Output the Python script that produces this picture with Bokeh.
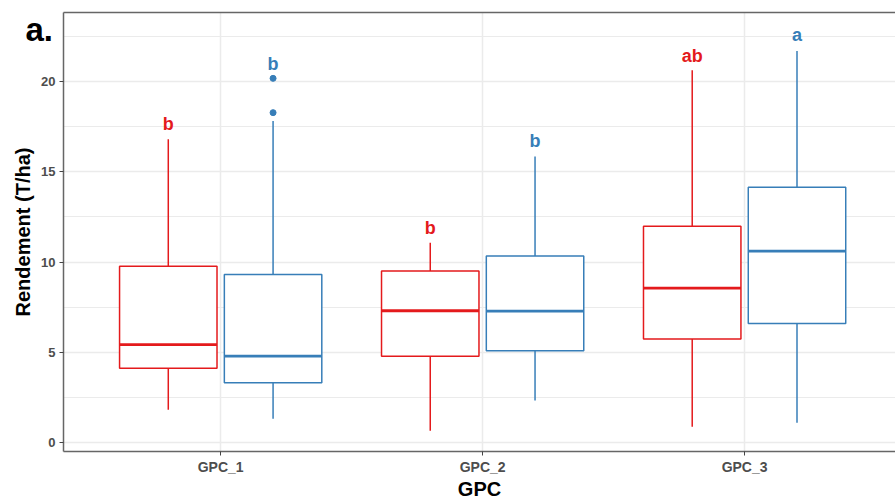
from bokeh.plotting import figure
from bokeh.models import Range1d, FixedTicker, LinearAxis, ColumnDataSource, Title
from bokeh.embed import file_html
from bokeh.resources import INLINE

# ---- data ----
categories = ["GPC_1", "GPC_2", "GPC_3"]

red_low = [1.82, 0.65, 0.87]
red_q1 = [4.12, 4.78, 5.74]
red_med = [5.42, 7.30, 8.55]
red_q3 = [9.77, 9.50, 11.98]
red_high = [16.81, 11.07, 20.63]
red_letters = ["b", "b", "ab"]
red_letter_y = [17.65, 11.91, 21.40]

blue_low = [1.32, 2.33, 1.10]
blue_q1 = [3.31, 5.09, 6.60]
blue_med = [4.79, 7.28, 10.61]
blue_q3 = [9.31, 10.33, 14.14]
blue_high = [17.82, 15.85, 21.69]
blue_letters = ["b", "b", "a"]
blue_letter_y = [21.00, 16.71, 22.56]

blue_outlier_cat = [1, 1]
blue_outlier_val = [20.18, 18.28]

y_ticks = [0, 5, 10, 15, 20]
y_minor = [2.5, 7.5, 12.5, 17.5, 22.5]

RED = "#E41A1C"
BLUE = "#377EB8"
DODGE = 0.2
BOXW = 0.372

p = figure(width=895, height=502, output_backend="svg", toolbar_location=None,
           x_range=Range1d(0.4, 3.576), y_range=Range1d(-0.5, 23.83),
           min_border_left=63, min_border_right=0, min_border_top=12, min_border_bottom=49)
p.outline_line_color = None
p.background_fill_color = "white"

# grid
p.xgrid.ticker = FixedTicker(ticks=[1, 2, 3])
p.ygrid.ticker = FixedTicker(ticks=y_ticks, minor_ticks=y_minor)
p.xgrid.grid_line_color = "#ebebeb"
p.ygrid.grid_line_color = "#ebebeb"
p.xgrid.grid_line_width = 1.5
p.ygrid.grid_line_width = 1.5
p.ygrid.minor_grid_line_color = "#ebebeb"
p.ygrid.minor_grid_line_width = 1

# axes
p.xaxis.ticker = FixedTicker(ticks=[1, 2, 3])
p.xaxis.major_label_overrides = {i + 1: c for i, c in enumerate(categories)}
p.yaxis.ticker = FixedTicker(ticks=y_ticks, minor_ticks=y_minor)
for ax in (p.xaxis[0], p.yaxis[0]):
    ax.axis_line_color = "#666666"
    ax.axis_line_width = 1.5
    ax.major_tick_line_color = "#444444"
    ax.major_tick_out = 4
    ax.major_tick_in = 0
    ax.minor_tick_line_color = None
    ax.major_label_text_font = "Liberation Sans"
    ax.major_label_text_font_style = "bold"
    ax.major_label_text_font_size = "13px"
    ax.major_label_text_color = "#4d4d4d"
    ax.axis_label_text_font = "Liberation Sans"
    ax.axis_label_text_font_style = "bold"
    ax.axis_label_text_font_size = "20px"
    ax.axis_label_text_color = "black"
p.xaxis.major_label_text_font_size = "14px"
p.xaxis.axis_label = "GPC"
p.yaxis.axis_label = "Rendement (T/ha)"
p.xaxis.major_label_standoff = 3
p.xaxis.axis_label_standoff = 0
p.yaxis.major_label_standoff = 4
p.yaxis.axis_label_standoff = 4

top_axis = LinearAxis(axis_line_color="#666666", axis_line_width=1.5,
                      major_tick_line_color=None, minor_tick_line_color=None,
                      major_label_text_font_size="0px", major_label_standoff=0,
                      major_tick_out=0, major_tick_in=0)
top_axis.ticker = FixedTicker(ticks=[])
p.add_layout(top_axis, "above")

def draw_group(lows, q1s, meds, q3s, highs, offset, color):
    xs = [i + 1 + offset for i in range(len(categories))]
    src = ColumnDataSource(dict(x=xs, low=lows, q1=q1s, med=meds, q3=q3s, high=highs,
                                left=[x - BOXW / 2 for x in xs], right=[x + BOXW / 2 for x in xs]))
    p.segment(x0="x", y0="q3", x1="x", y1="high", source=src, line_color=color, line_width=1.5)
    p.segment(x0="x", y0="q1", x1="x", y1="low", source=src, line_color=color, line_width=1.5)
    p.quad(left="left", right="right", bottom="q1", top="q3", source=src,
           fill_color="white", line_color=color, line_width=1.5)
    p.segment(x0="left", y0="med", x1="right", y1="med", source=src, line_color=color, line_width=2.8)
    return xs

rx = draw_group(red_low, red_q1, red_med, red_q3, red_high, -DODGE, RED)
bx = draw_group(blue_low, blue_q1, blue_med, blue_q3, blue_high, DODGE, BLUE)

p.scatter(x=[c + DODGE for c in blue_outlier_cat], y=blue_outlier_val, size=6,
          fill_color=BLUE, line_color=BLUE, marker="circle")

p.text(x=rx, y=red_letter_y, text=red_letters, text_color=RED, text_font_size="18px",
       text_font_style="bold", text_align="center", text_baseline="middle")
p.text(x=bx, y=blue_letter_y, text=blue_letters, text_color=BLUE, text_font_size="18px",
       text_font_style="bold", text_align="center", text_baseline="middle")

# panel tag "a." in the top-left margin
t = Title(text="a.", align="left", offset=-38, standoff=-70, text_font_size="33px",
          text_font_style="bold", text_font="Liberation Sans", text_color="black")
p.add_layout(t, "above")

open("out.html", "w").write(file_html(p, INLINE))
